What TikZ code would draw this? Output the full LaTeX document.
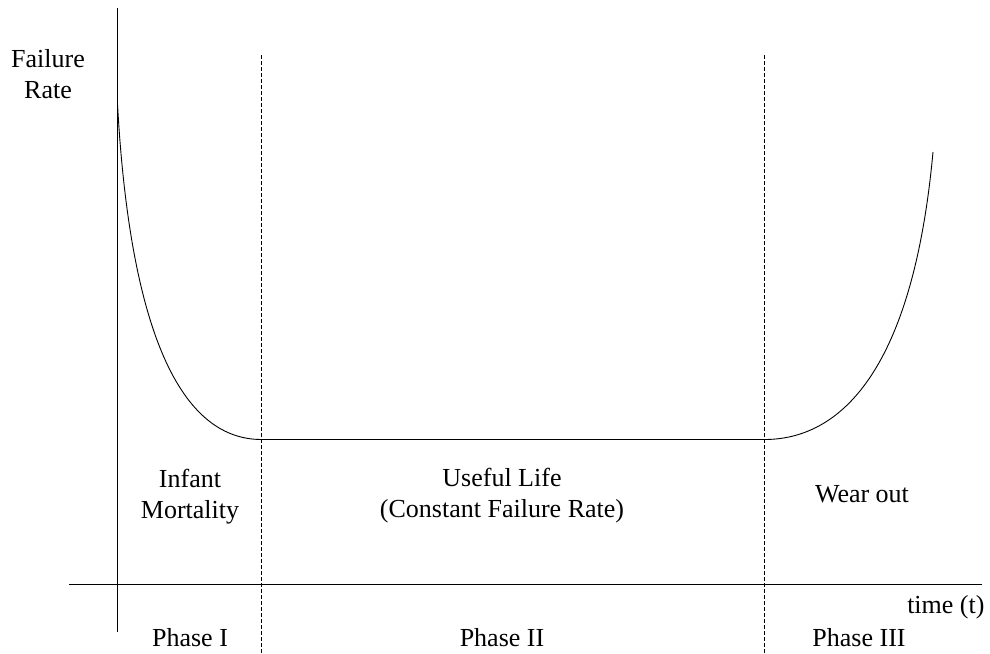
\documentclass[tikz,border=0pt]{standalone}
\usepackage{fontspec}
\setmainfont{Liberation Serif}

\begin{document}
\begin{tikzpicture}[x=1pt, y=-1pt, line width=1pt,
    lbl/.style={inner sep=0pt, anchor=base, align=center, font=\fontsize{26}{31}\selectfont},
    phase/.style={dash pattern=on 4pt off 2pt}]
    \useasboundingbox (0,0) rectangle (990,653);

    % 座標
    \coordinate (Ytop) at (117.5, 8);
    \coordinate (Ybot) at (117.5, 632);
    \coordinate (Xl) at (69, 584.5);
    \coordinate (Xr) at (982, 584.5);
    \coordinate (Atop) at (261.5, 55);
    \coordinate (Abot) at (261.5, 653);
    \coordinate (Btop) at (764.5, 55);
    \coordinate (Bbot) at (764.5, 653);
    \coordinate (S) at (117.5, 104);
    \coordinate (P) at (261.5, 439.5);
    \coordinate (Q) at (764.5, 439.5);
    \coordinate (E) at (933, 152);

    % ラベル
    \node[lbl] (FR) at (48, 98) {Failure\\Rate};
    \node[lbl] (IM) at (190, 518) {Infant\\Mortality};
    \node[lbl] (UL) at (502, 517) {Useful Life\\(Constant Failure Rate)};
    \node[lbl] (WO) at (862, 502) {Wear out};
    \node[lbl] (PI) at (190, 646) {Phase I};
    \node[lbl] (PII) at (502, 646) {Phase II};
    \node[lbl] (PIII) at (859, 646) {Phase III};
    \node[lbl, anchor=base east] (T) at (985, 613) {time (t)};

    % 軸
    \draw (Ytop) -- (Ybot);
    \draw (Xl) -- (Xr);
    \draw[phase] (Atop) -- (Abot);
    \draw[phase] (Btop) -- (Bbot);

    % 曲線
    \draw[line width=0.9pt] (S) .. controls (130, 330) and (180, 439.5) .. (P) -- (Q)
        .. controls (835, 439.5) and (912, 380) .. (E);
\end{tikzpicture}
\end{document}
